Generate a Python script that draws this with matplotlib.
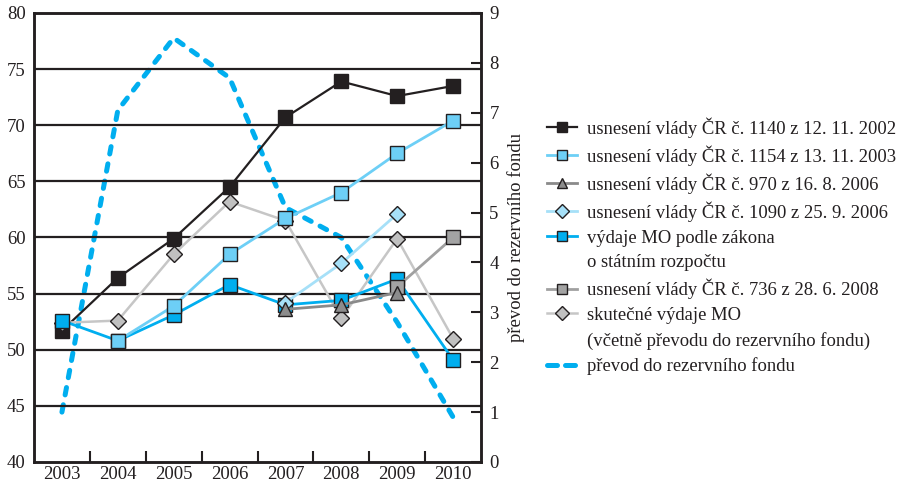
import numpy as np
import matplotlib.pyplot as plt
from matplotlib.lines import Line2D

plt.rcParams['font.family'] = ['Liberation Serif', 'DejaVu Serif']

nan = np.nan
years = ['2003', '2004', '2005', '2006', '2007', '2008', '2009', '2010']
s1140 = [51.7, 56.4, 59.9, 64.5, 70.7, 73.9, 72.6, 73.5]
s1154 = [nan, 50.8, 53.9, 58.5, 61.7, 64.0, 67.5, 70.4]
s970 = [nan, nan, nan, nan, 53.6, 54.0, 55.1, nan]
s1090 = [nan, nan, nan, nan, 54.2, 57.7, 62.1, nan]
vydaje = [52.6, 50.8, 53.1, 55.8, 54.0, 54.4, 56.3, 49.1]
s736 = [nan, nan, nan, nan, nan, nan, 55.6, 60.0]
skutecne = [52.4, 52.6, 58.5, 63.2, 61.5, 52.8, 59.9, 51.0]
prevod = [1.0, 7.05, 8.5, 7.7, 5.1, 4.5, 2.8, 0.9]

labels = ['usnesení vlády ČR č. 1140 z 12. 11. 2002',
          'usnesení vlády ČR č. 1154 z 13. 11. 2003',
          'usnesení vlády ČR č. 970 z 16. 8. 2006',
          'usnesení vlády ČR č. 1090 z 25. 9. 2006',
          'výdaje MO podle zákona',
          'o státním rozpočtu',
          'usnesení vlády ČR č. 736 z 28. 6. 2008',
          'skutečné výdaje MO',
          '(včetně převodu do rezervního fondu)',
          'převod do rezervního fondu']

dark = '#231f20'
x = np.arange(len(years))

fig = plt.figure(figsize=(9.05, 4.87), dpi=100)
ax = fig.add_axes([34/905, 25/487, 447/905, 449/487])
ax2 = ax.twinx()

# dashed line on the right axis, behind the other series
ax2.plot(x, prevod, color='#00aeef', lw=3.6, dashes=(1.5, 2.0),
         dash_capstyle='round', solid_joinstyle='round')
ax2.set_ylim(0, 9)
ax2.set_yticks(range(10))
ax2.tick_params(axis='y', direction='in', length=7, width=1.5, pad=6,
                labelsize=13.5, colors=dark)
ax2.set_ylabel('převod do rezervního fondu', fontsize=13.5, color=dark, labelpad=6)

ax.set_zorder(ax2.get_zorder() + 1)
ax.patch.set_visible(False)

mk = dict(markeredgecolor=dark, markeredgewidth=1.0)
h1140, = ax.plot(x, s1140, color=dark, lw=1.6, marker='s', ms=10, markerfacecolor=dark, **mk)
hsk, = ax.plot(x, skutecne, color='#c6c6c6', lw=1.8, marker='D', ms=8.5, markerfacecolor='#c0c0c0', **mk)
hvy, = ax.plot(x, vydaje, color='#00aeef', lw=2.0, marker='s', ms=10, markerfacecolor='#00aeef', **mk)
h1154, = ax.plot(x, s1154, color='#6dcff6', lw=2.0, marker='s', ms=10, markerfacecolor='#6dcff6', **mk)
h1090, = ax.plot(x, s1090, color='#a6e0f8', lw=2.0, marker='D', ms=8.5, markerfacecolor='#a6e0f8', **mk)
h736, = ax.plot(x, s736, color='#a0a0a0', lw=2.0, marker='s', ms=10, markerfacecolor='#a3a3a3', **mk)
h970, = ax.plot(x, s970, color='#8a8a8a', lw=2.0, marker='^', ms=10, markerfacecolor='#8c8c8c', **mk)

ax.set_ylim(40, 80)
ax.set_yticks(range(40, 81, 5))
ax.set_xlim(-0.5, len(years) - 0.5)
ax.set_xticks(x)
ax.set_xticklabels(years)
ax.set_xticks(x[:-1] + 0.5, minor=True)
ax.tick_params(axis='x', which='major', length=0, pad=3, labelsize=13.5, colors=dark)
ax.tick_params(axis='x', which='minor', direction='in', length=8, width=1.5, color=dark)
ax.tick_params(axis='y', length=0, pad=6, labelsize=13.5, colors=dark)
for g in range(45, 80, 5):
    ax.axhline(g, color=dark, lw=1.6, zorder=0.5)
for a in (ax, ax2):
    for sp in a.spines.values():
        sp.set_linewidth(1.8)
        sp.set_color(dark)

blank = Line2D([], [], linestyle='none')
hdash = Line2D([], [], color='#00aeef', lw=3.6, dashes=(2.0, 1.6), dash_capstyle='round')
handles = [h1140, h1154, h970, h1090, hvy, blank, h736, hsk, blank, hdash]
leg = fig.legend(handles, labels, loc='upper left', bbox_to_anchor=(547/905, 1 - 117/487),
                 frameon=False, fontsize=13.4, handlelength=1.6, handletextpad=0.55,
                 labelspacing=0.41, borderaxespad=0, borderpad=0)
for t in leg.get_texts():
    t.set_color(dark)
for lh in leg.legend_handles:
    if hasattr(lh, 'set_markersize'):
        lh.set_markersize(7)

fig.savefig('out.png', dpi=100)
